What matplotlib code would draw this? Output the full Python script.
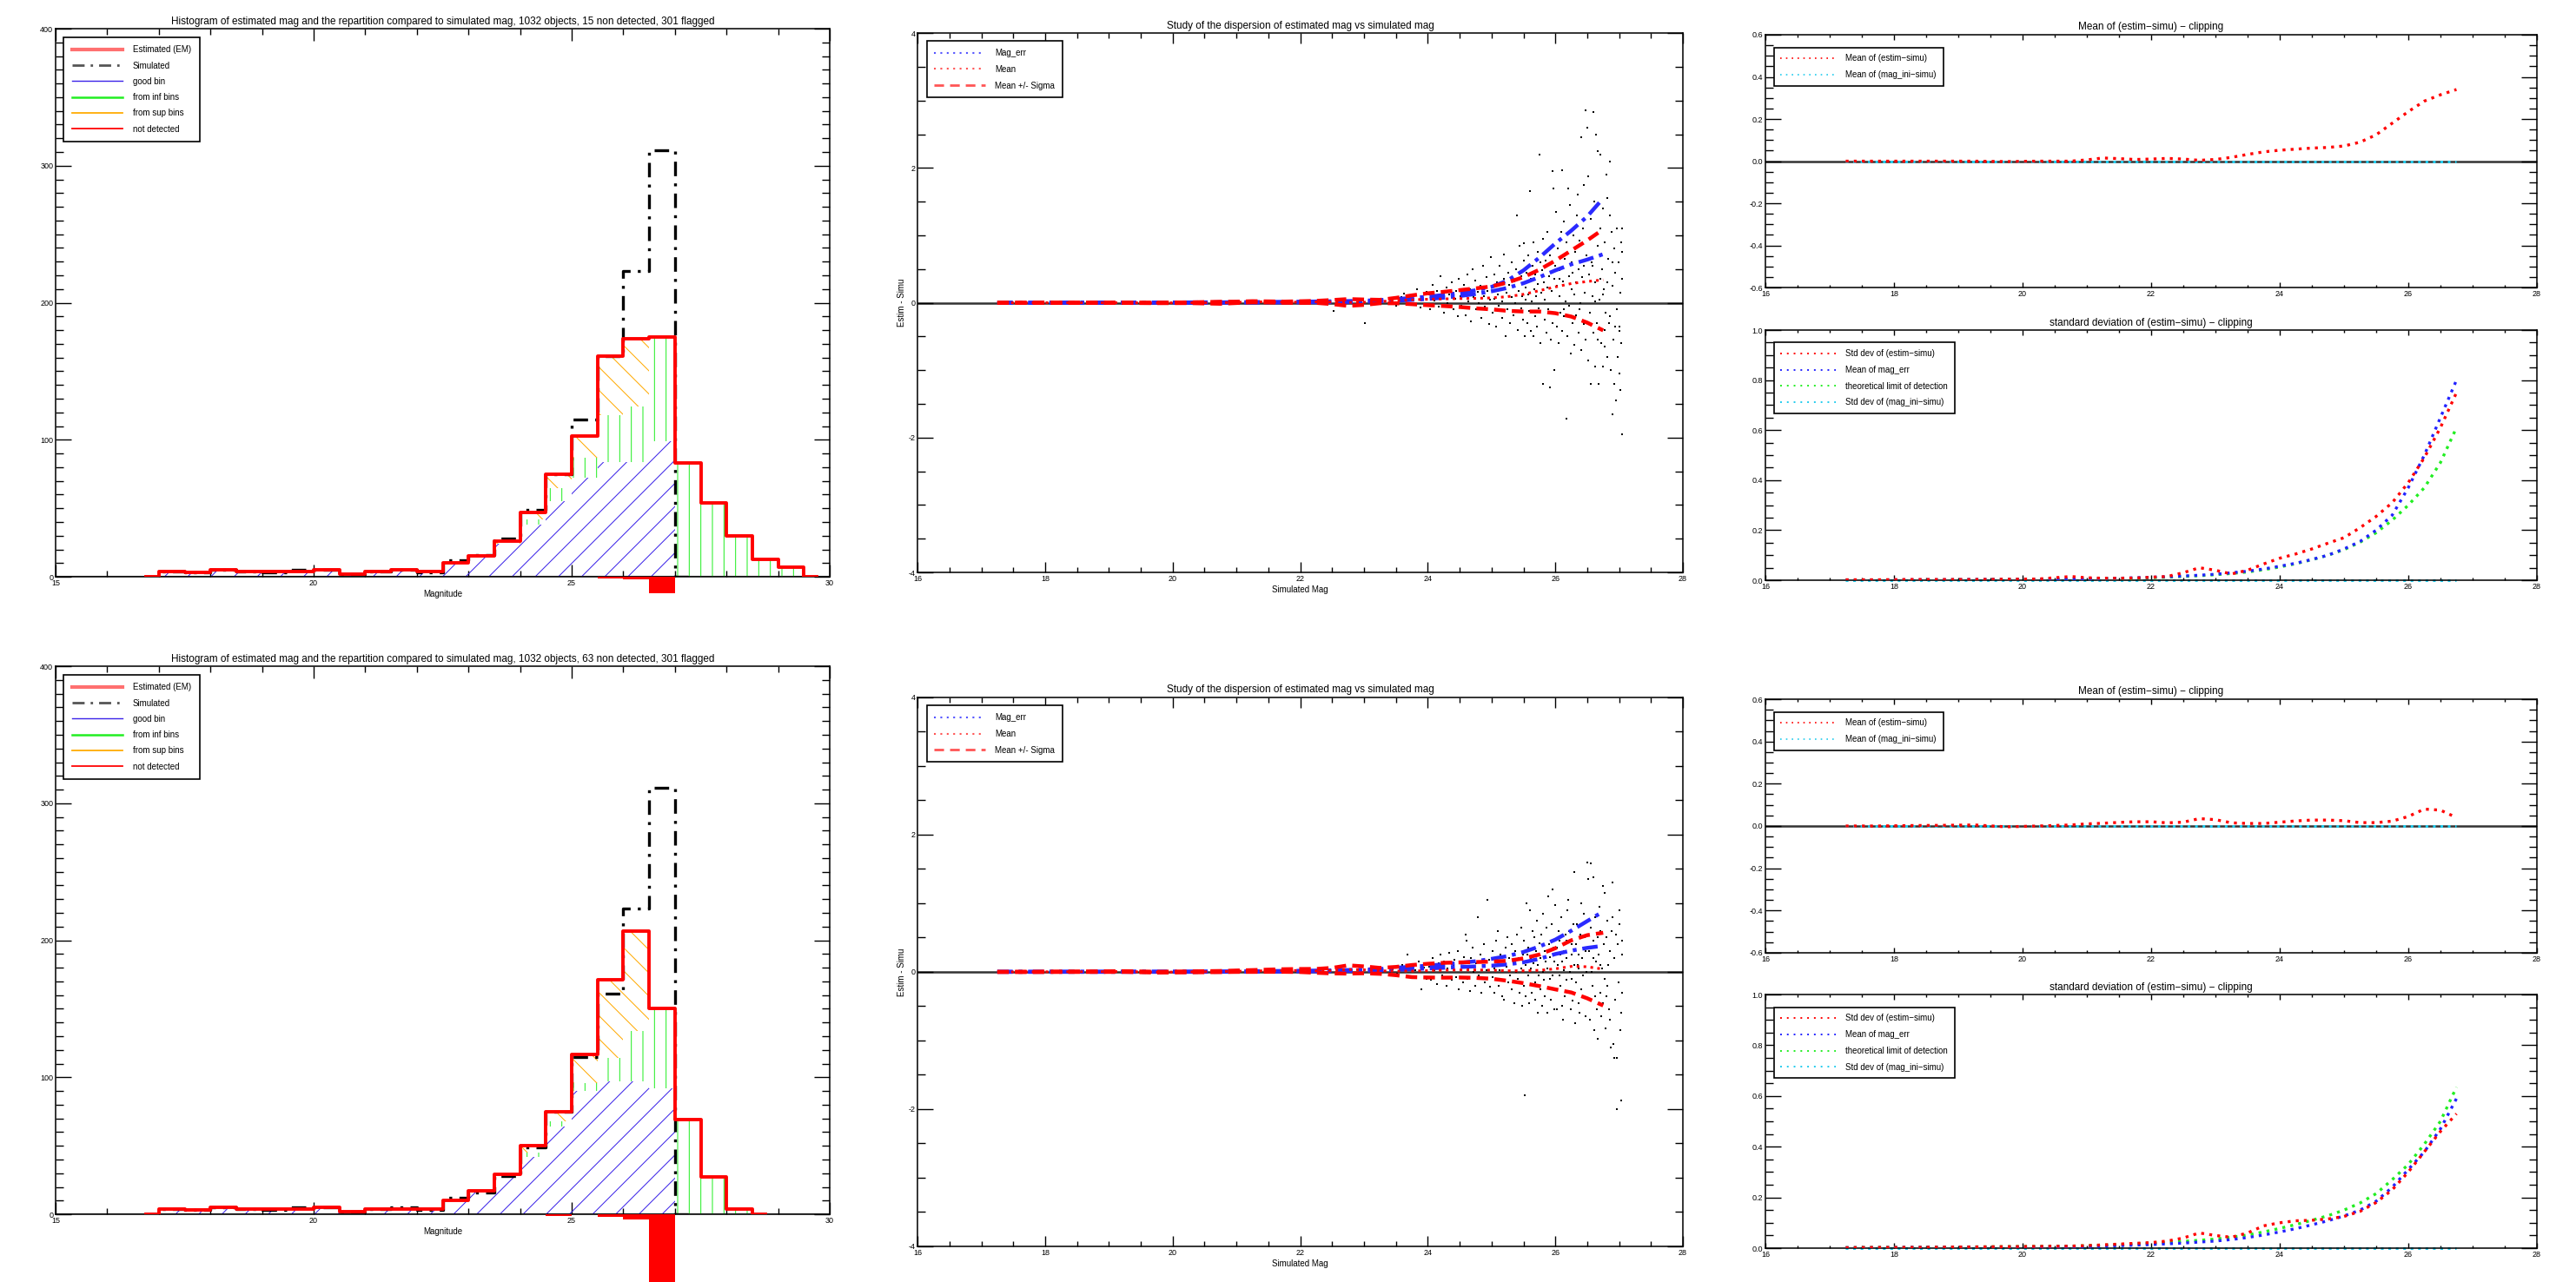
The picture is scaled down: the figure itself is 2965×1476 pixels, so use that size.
import numpy as np
import matplotlib
matplotlib.use("Agg")
import matplotlib.pyplot as plt
from matplotlib.lines import Line2D
from matplotlib.ticker import MultipleLocator, FormatStrFormatter

plt.rcParams['font.family'] = ['Liberation Sans Narrow', 'Liberation Sans', 'DejaVu Sans']
plt.rcParams['hatch.linewidth'] = 0.9
plt.rcParams['axes.linewidth'] = 1.4

# ---------------- histogram data (0.5 mag bins, centres) ----------------
centers1 = np.arange(16.75, 29.8, 0.5)
centers2 = np.arange(16.75, 28.8, 0.5)
sim_centers = np.arange(16.75, 27.3, 0.5)

simulated = [0, 4, 3, 5, 4, 3, 5, 5, 2, 4, 5, 3, 12, 16, 28, 49, 75, 115, 161, 223, 311, 0]

estim1 = [0, 4, 3, 5, 4, 4, 4, 5, 2, 4, 5, 4, 10, 15, 26, 47, 75, 103, 161, 174, 175, 83, 54, 30, 13, 7, 0]
good1 = [0, 4, 3, 5, 4, 4, 4, 5, 2, 4, 5, 4, 10, 15, 24, 38, 55, 72, 84, 84, 99, 0, 0, 0, 0, 0, 0]
inf1 = [0, 0, 0, 0, 0, 0, 0, 0, 0, 0, 0, 0, 0, 0, 0, 4, 10, 15, 34, 40, 76, 83, 54, 30, 13, 7, 0]
sup1 = [0, 0, 0, 0, 0, 0, 0, 0, 0, 0, 0, 0, 0, 0, 2, 5, 10, 16, 43, 50, 0, 0, 0, 0, 0, 0, 0]
notdet1 = [0, 0, 0, 0, 0, 0, 0, 0, 0, 0, 0, 0, 0, 0, 0, 0, 0, 0, -1, -2, -12, 0, 0, 0, 0, 0, 0]

estim2 = [0, 4, 3, 5, 4, 4, 4, 5, 2, 4, 4, 4, 10, 17, 29, 50, 75, 117, 171, 207, 150, 69, 27, 4, 0]
good2 = [0, 4, 3, 5, 4, 4, 4, 5, 2, 4, 4, 4, 10, 17, 27, 42, 64, 90, 97, 97, 92, 0, 0, 0, 0]
inf2 = [0, 0, 0, 0, 0, 0, 0, 0, 0, 0, 0, 0, 0, 0, 0, 3, 4, 6, 17, 37, 58, 69, 27, 4, 0]
sup2 = [0, 0, 0, 0, 0, 0, 0, 0, 0, 0, 0, 0, 0, 0, 2, 5, 7, 21, 57, 73, 0, 0, 0, 0, 0]
notdet2 = [0, 0, 0, 0, 0, 0, 0, 0, 0, 0, 0, 0, 0, 0, 0, 0, -1, 0, -2, -4, -56, 0, 0, 0, 0]

hist_titles = [
    "Histogram of estimated mag and the repartition compared to simulated mag, 1032 objects, 15 non detected, 301 flagged",
    "Histogram of estimated mag and the repartition compared to simulated mag, 1032 objects, 63 non detected, 301 flagged",
]

# ---------------- binned statistics vs simulated mag ----------------
mag_grid = [17.25, 17.75, 18.25, 18.75, 19.25, 19.75, 20.25, 20.75, 21.0, 21.25, 21.5, 21.75,
            22.0, 22.25, 22.5, 22.75, 23.0, 23.25, 23.5, 23.75, 24.0, 24.25, 24.5, 24.75,
            25.0, 25.25, 25.5, 25.75, 26.0, 26.25, 26.5, 26.75]

mean1 = [0.0, 0.0, 0.0, 0.0, 0.0, -0.002, 0.0, 0.0, 0.006, 0.015, 0.012, 0.008,
         0.01, 0.013, 0.01, 0.004, 0.008, 0.018, 0.032, 0.044, 0.052, 0.057, 0.062, 0.065,
         0.072, 0.09, 0.125, 0.18, 0.235, 0.285, 0.315, 0.34]
std1 = [0.002, 0.002, 0.003, 0.003, 0.003, 0.004, 0.005, 0.015, 0.01, 0.008, 0.008, 0.009,
        0.012, 0.015, 0.03, 0.05, 0.04, 0.025, 0.04, 0.065, 0.088, 0.105, 0.125, 0.148,
        0.17, 0.21, 0.255, 0.31, 0.39, 0.49, 0.61, 0.75]
magerr1 = [0.001, 0.001, 0.002, 0.002, 0.003, 0.003, 0.004, 0.005, 0.006, 0.007, 0.008, 0.01,
           0.012, 0.014, 0.017, 0.02, 0.024, 0.03, 0.036, 0.045, 0.056, 0.068, 0.083, 0.1,
           0.125, 0.155, 0.2, 0.26, 0.37, 0.5, 0.65, 0.8]
theo1 = [0.0005, 0.001, 0.001, 0.0015, 0.002, 0.0025, 0.003, 0.004, 0.005, 0.006, 0.007, 0.008,
         0.01, 0.012, 0.015, 0.018, 0.022, 0.027, 0.033, 0.042, 0.053, 0.066, 0.082, 0.1,
         0.122, 0.152, 0.19, 0.24, 0.3, 0.37, 0.47, 0.61]
blue_up1 = [0.002, 0.002, 0.003, 0.003, 0.004, 0.004, 0.005, 0.006, 0.008, 0.01, 0.012, 0.014,
            0.016, 0.018, 0.021, 0.025, 0.03, 0.04, 0.055, 0.07, 0.09, 0.115, 0.145, 0.185,
            0.235, 0.33, 0.48, 0.67, 0.88, 1.07, 1.28, 1.55]
blue_lo1 = [0.0, 0.0, 0.0, 0.0, 0.0, 0.0, 0.0, 0.001, 0.002, 0.003, 0.004, 0.005,
            0.006, 0.008, 0.01, 0.012, 0.016, 0.022, 0.03, 0.042, 0.056, 0.075, 0.1, 0.13,
            0.17, 0.22, 0.29, 0.38, 0.48, 0.57, 0.64, 0.72]

mean2 = [0.0, 0.0, 0.002, 0.003, 0.005, -0.004, 0.0, 0.005, 0.01, 0.013, 0.017, 0.02,
         0.02, 0.015, 0.018, 0.035, 0.03, 0.015, 0.012, 0.012, 0.018, 0.024, 0.028, 0.028,
         0.025, 0.016, 0.016, 0.023, 0.045, 0.08, 0.075, 0.04]
std2 = [0.002, 0.003, 0.003, 0.004, 0.005, 0.006, 0.007, 0.008, 0.01, 0.013, 0.016, 0.019,
        0.022, 0.028, 0.04, 0.06, 0.05, 0.043, 0.06, 0.088, 0.1, 0.108, 0.11, 0.115,
        0.125, 0.145, 0.18, 0.23, 0.3, 0.38, 0.46, 0.53]
magerr2 = [0.002, 0.002, 0.003, 0.003, 0.004, 0.004, 0.005, 0.006, 0.007, 0.008, 0.01, 0.012,
           0.014, 0.017, 0.02, 0.024, 0.028, 0.034, 0.042, 0.052, 0.064, 0.077, 0.092, 0.108,
           0.127, 0.15, 0.185, 0.24, 0.31, 0.38, 0.47, 0.59]
theo2 = [0.002, 0.003, 0.003, 0.004, 0.005, 0.006, 0.007, 0.008, 0.01, 0.012, 0.014, 0.017,
         0.02, 0.023, 0.027, 0.031, 0.036, 0.043, 0.052, 0.064, 0.078, 0.093, 0.11, 0.128,
         0.15, 0.178, 0.215, 0.27, 0.33, 0.41, 0.5, 0.635]
blue_up2 = [0.002, 0.002, 0.003, 0.003, 0.004, 0.004, 0.005, 0.006, 0.008, 0.01, 0.012, 0.014,
            0.016, 0.019, 0.022, 0.027, 0.033, 0.042, 0.06, 0.075, 0.09, 0.11, 0.13, 0.155,
            0.19, 0.23, 0.29, 0.37, 0.47, 0.6, 0.74, 0.88]
blue_lo2 = [0.0, 0.0, 0.0, 0.0, 0.0, 0.0, 0.0, 0.001, 0.002, 0.003, 0.004, 0.005,
            0.006, 0.008, 0.01, 0.013, 0.017, 0.023, 0.03, 0.04, 0.05, 0.06, 0.07, 0.08,
            0.09, 0.11, 0.14, 0.19, 0.26, 0.31, 0.35, 0.38]
ini_simu = [0.0] * len(mag_grid)

# ---------------- scatter of estim - simu ----------------
scatter1 = [
    (22.52, -0.12), (23.02, -0.30), (23.42, 0.03), (23.5, -0.05), (23.58, 0.08), (23.63, 0.14), (23.7, -0.02),
    (23.76, 0.1), (23.83, 0.2), (23.88, -0.07), (23.93, 0.05), (23.98, 0.16),
    (24.02, 0.12), (24.04, -0.1), (24.08, 0.26), (24.1, 0.03), (24.14, 0.18), (24.17, -0.06), (24.2, 0.4),
    (24.23, 0.08), (24.26, -0.15), (24.29, 0.22), (24.31, 0.0), (24.34, 0.12), (24.37, 0.3), (24.4, -0.1),
    (24.43, 0.06), (24.45, 0.18), (24.47, -0.2), (24.49, 0.35),
    (24.51, 0.1), (24.53, -0.05), (24.56, 0.27), (24.58, 0.14), (24.6, -0.18), (24.62, 0.42), (24.64, 0.02),
    (24.66, 0.2), (24.68, -0.28), (24.7, 0.5), (24.72, 0.08), (24.74, 0.33), (24.76, -0.1), (24.78, 0.16),
    (24.8, 0.0), (24.82, 0.25), (24.84, -0.22), (24.86, 0.55), (24.88, 0.1), (24.9, -0.06), (24.92, 0.38),
    (24.94, 0.18), (24.96, -0.32), (24.97, 0.04), (24.99, 0.68),
    (25.01, 0.22), (25.02, -0.15), (25.04, 0.42), (25.05, 0.06), (25.07, -0.35), (25.08, 0.3), (25.1, 0.12),
    (25.11, -0.05), (25.13, 0.55), (25.14, 0.2), (25.16, -0.22), (25.17, 0.02), (25.19, 0.36), (25.2, 0.72),
    (25.22, -0.5), (25.23, 0.15), (25.25, -0.1), (25.26, 0.45), (25.28, 0.26), (25.29, -0.3), (25.31, 0.08),
    (25.32, 0.6), (25.34, -0.18), (25.35, 0.32), (25.37, 0.0), (25.38, 0.5), (25.4, 1.3), (25.41, -0.4),
    (25.43, 0.18), (25.44, 0.85), (25.46, -0.08), (25.47, 0.4), (25.48, 0.1), (25.49, -0.25), (25.5, 0.62),
    (25.51, 0.88), (25.52, -0.5), (25.53, 0.22), (25.54, 0.05), (25.55, 0.45), (25.56, -0.3), (25.57, 0.12),
    (25.58, 0.7), (25.59, -0.12), (25.6, 1.65), (25.61, 0.35), (25.62, -0.42), (25.63, 0.02), (25.64, 0.55),
    (25.65, 0.9), (25.66, -0.5), (25.67, 0.2), (25.68, -0.2), (25.69, 0.42), (25.7, 0.1), (25.71, -0.35),
    (25.72, 0.75), (25.73, 0.28), (25.74, -0.08), (25.75, 2.2), (25.76, 0.6), (25.77, -0.6), (25.78, 0.15),
    (25.79, 0.48), (25.8, -1.2), (25.81, 0.95), (25.82, 0.3), (25.83, -0.25), (25.84, 0.05), (25.85, 0.62),
    (25.86, -0.45), (25.87, 0.22), (25.88, 1.05), (25.89, -0.1), (25.9, 0.4), (25.91, -1.25), (25.92, 0.7),
    (25.93, -0.55), (25.94, 0.18), (25.95, 1.95), (25.96, -0.3), (25.97, 1.7), (25.98, 0.35), (25.99, -1.0),
    (26.0, 0.55), (26.01, 1.35), (26.02, -0.35), (26.03, 0.25), (26.04, 0.8), (26.05, -0.6), (26.06, 0.1),
    (26.07, 0.48), (26.08, -0.15), (26.09, 1.05), (26.1, 1.97), (26.11, -0.42), (26.12, 0.32), (26.13, 1.2),
    (26.14, -0.2), (26.15, 0.65), (26.16, 0.02), (26.17, -1.72), (26.18, 0.9), (26.19, -0.5), (26.2, 1.7),
    (26.21, 0.4), (26.22, -0.05), (26.23, 1.45), (26.24, -0.75), (26.25, 0.2), (26.26, 0.6), (26.27, -0.3),
    (26.28, 1.0), (26.29, 0.12), (26.3, -0.62), (26.31, 0.75), (26.32, 0.3), (26.33, -0.18), (26.34, 1.3),
    (26.35, 1.6), (26.36, 0.5), (26.37, -0.45), (26.38, 0.92), (26.39, 0.0), (26.4, 2.45), (26.41, -0.7),
    (26.42, 0.38), (26.43, 1.1), (26.44, -0.32), (26.45, 1.75), (26.46, 0.15), (26.47, 2.85), (26.48, -0.55),
    (26.49, 0.7), (26.5, 2.6), (26.27, 0.45), (26.13, -0.1), (26.06, 0.35), (26.38, -0.1), (26.44, 0.55),
    (26.51, 1.88), (26.52, -0.85), (26.53, 0.42), (26.54, -0.15), (26.55, 1.25), (26.56, -1.2), (26.57, 0.6),
    (26.58, 0.1), (26.59, -0.45), (26.6, 2.83), (26.61, 1.5), (26.62, -0.95), (26.63, 0.3), (26.64, 2.5),
    (26.65, -0.3), (26.66, 0.85), (26.67, 2.25), (26.68, -1.2), (26.69, 0.05), (26.7, 2.2), (26.71, 1.1),
    (26.72, -0.6), (26.73, 0.5), (26.74, -0.95), (26.75, 1.4), (26.76, 0.2), (26.77, -0.4), (26.78, 0.9),
    (26.79, -0.15), (26.8, 1.9), (26.81, 1.55), (26.82, -0.8), (26.83, 0.65), (26.84, -0.3), (26.85, 2.1),
    (26.86, 1.3), (26.87, -1.0), (26.88, 1.05), (26.89, -1.65), (26.9, 0.25), (26.91, -0.55), (26.92, 0.8),
    (26.93, -1.2), (26.94, 0.45), (26.95, -1.45), (26.96, 1.1), (26.97, -0.1), (26.98, -0.8), (26.99, 0.6),
    (27.0, -1.05), (27.01, -0.35), (27.02, 0.15), (27.02, -1.3), (27.03, 0.9), (27.03, -0.6), (27.04, -1.95),
    (27.04, 0.35), (27.05, 1.1), (27.05, 0.75), (27.01, -0.42), (26.58, 0.55), (26.62, 0.02), (26.66, -0.55),
    (26.7, 0.35), (26.74, 0.12), (26.78, -0.65), (26.82, 0.3), (26.86, -0.2), (26.9, 0.6), (26.94, -0.35),
]

scatter2 = [
    (23.45, 0.04), (23.52, -0.03), (23.6, 0.1), (23.68, 0.25), (23.73, -0.08), (23.8, 0.02), (23.86, 0.15),
    (23.9, -0.25), (23.94, 0.06), (23.98, -0.1),
    (24.02, 0.08), (24.05, -0.12), (24.08, 0.2), (24.11, 0.02), (24.14, -0.18), (24.17, 0.12), (24.2, 0.25),
    (24.23, -0.05), (24.26, 0.15), (24.29, -0.2), (24.31, 0.05), (24.34, 0.28), (24.37, -0.12), (24.4, 0.1),
    (24.42, 0.18), (24.45, -0.08), (24.47, 0.3), (24.49, -0.25),
    (24.51, 0.02), (24.53, 0.12), (24.55, -0.15), (24.57, 0.22), (24.59, 0.55), (24.61, 0.45), (24.62, -0.1),
    (24.64, 0.05), (24.66, -0.28), (24.68, 0.2), (24.7, 0.35), (24.72, 0.0), (24.74, -0.2), (24.76, 0.12),
    (24.78, 0.8), (24.8, -0.05), (24.82, 0.25), (24.84, -0.3), (24.86, 0.1), (24.88, 0.4), (24.9, -0.15),
    (24.92, 0.02), (24.94, 1.05), (24.96, 0.18), (24.98, -0.22),
    (25.01, 0.3), (25.02, -0.08), (25.04, 0.05), (25.05, -0.3), (25.07, 0.45), (25.08, 0.15), (25.1, 0.6),
    (25.11, -0.2), (25.13, 0.02), (25.14, 0.25), (25.16, -0.35), (25.17, 0.1), (25.19, -0.12), (25.2, -0.4),
    (25.22, 0.35), (25.23, 0.08), (25.25, 0.5), (25.26, -0.15), (25.28, 0.2), (25.29, -0.05), (25.31, 0.4),
    (25.32, -0.25), (25.34, 0.15), (25.35, -0.45), (25.37, 0.3), (25.38, 0.0), (25.4, 0.55), (25.41, -0.1),
    (25.43, 0.2), (25.44, -0.3), (25.46, 0.05), (25.47, 0.65), (25.48, -0.5), (25.49, 0.25), (25.5, -0.2),
    (25.51, 0.45), (25.52, -1.8), (25.53, 0.1), (25.54, -0.35), (25.55, 1.0), (25.56, 0.25), (25.57, -0.05),
    (25.58, 0.35), (25.59, -0.45), (25.6, 0.9), (25.61, 0.2), (25.62, 0.05), (25.63, -0.3), (25.64, 0.6),
    (25.65, -0.2), (25.66, 0.12), (25.67, 0.5), (25.68, -0.15), (25.69, -0.4), (25.7, 0.3), (25.71, 0.75),
    (25.72, -0.6), (25.73, 0.1), (25.74, -0.05), (25.75, 0.42), (25.76, -0.25), (25.77, 0.2), (25.78, 0.55),
    (25.79, -0.5), (25.8, 0.0), (25.81, 0.85), (25.82, -0.12), (25.83, 0.3), (25.84, -0.35), (25.85, 0.15),
    (25.86, 0.65), (25.87, -0.6), (25.88, 0.05), (25.89, 1.1), (25.9, 0.4), (25.91, -0.1), (25.92, 0.22),
    (25.93, -0.4), (25.94, 0.7), (25.95, 1.2), (25.96, -0.05), (25.97, 0.35), (25.98, -0.55), (25.99, 0.15),
    (26.0, 0.97), (26.01, -0.25), (26.02, 0.35), (26.03, -0.55), (26.04, 0.1), (26.05, 0.6), (26.06, -0.05),
    (26.07, 0.45), (26.08, -0.2), (26.09, 0.8), (26.1, -0.5), (26.11, 0.15), (26.12, -0.7), (26.13, 0.3),
    (26.14, 0.02), (26.15, -0.35), (26.16, 0.55), (26.17, 0.2), (26.18, -0.12), (26.19, 0.9), (26.2, 1.05),
    (26.21, -0.3), (26.22, 0.6), (26.23, 0.0), (26.24, -0.55), (26.25, 0.25), (26.26, 0.4), (26.27, -0.42),
    (26.28, 0.7), (26.29, 0.1), (26.3, 1.45), (26.31, -0.75), (26.32, 0.4), (26.33, -0.15), (26.34, 0.7),
    (26.35, 0.1), (26.36, -0.45), (26.37, 0.25), (26.38, -0.6), (26.39, 0.55), (26.4, -0.25), (26.41, 1.0),
    (26.42, 0.2), (26.43, -0.05), (26.44, 0.85), (26.45, -0.35), (26.46, 0.5), (26.47, -0.65), (26.48, 0.3),
    (26.49, 0.0), (26.5, 1.6), (26.08, 0.25), (26.18, 0.45), (26.26, -0.1), (26.36, 0.05), (26.44, 0.35),
    (26.51, 1.35), (26.52, -0.4), (26.53, 0.3), (26.54, -0.7), (26.55, 1.58), (26.56, 0.65), (26.57, 0.0),
    (26.58, -0.2), (26.59, 0.45), (26.6, 1.38), (26.61, -0.85), (26.62, 0.8), (26.63, -0.35), (26.64, 0.15),
    (26.65, -0.55), (26.66, 0.5), (26.67, -0.98), (26.68, 0.25), (26.69, 0.95), (26.7, -0.3), (26.71, 0.6),
    (26.72, -0.65), (26.73, 0.05), (26.74, 1.25), (26.75, -0.45), (26.76, 0.4), (26.77, -0.1), (26.78, 1.15),
    (26.79, -0.82), (26.8, 0.5), (26.81, -0.2), (26.82, 0.75), (26.83, 0.1), (26.84, -0.55), (26.85, -0.7),
    (26.86, 0.3), (26.87, -1.1), (26.88, 0.6), (26.89, 1.3), (26.9, 0.8), (26.91, -1.05), (26.92, -1.25),
    (26.93, 0.2), (26.94, -0.4), (26.95, 0.55), (26.96, -1.25), (26.97, -2.0), (26.98, 0.4), (26.99, -0.15),
    (27.0, 0.7), (27.01, 0.9), (27.02, -0.85), (27.03, -1.88), (27.03, -0.6), (27.04, 0.25), (27.04, 0.45),
    (27.05, -0.3), (26.6, 0.2), (26.7, 0.1), (26.8, -0.35),
]

BLUE = '#3a22e8'
GREEN = '#22ee22'
ORANGE = '#ffaa00'
RED = '#ff0000'
CYAN = '#22ccee'


def idl_ticks(ax, xmaj, xmin, ymaj, ymin, xlen, ylen, fmt_x='%d', fmt_y='%d'):
    ax.xaxis.set_major_locator(MultipleLocator(xmaj))
    ax.xaxis.set_minor_locator(MultipleLocator(xmin))
    ax.yaxis.set_major_locator(MultipleLocator(ymaj))
    ax.yaxis.set_minor_locator(MultipleLocator(ymin))
    ax.xaxis.set_major_formatter(FormatStrFormatter(fmt_x))
    ax.yaxis.set_major_formatter(FormatStrFormatter(fmt_y))
    ax.tick_params(which='both', direction='in', top=True, right=True, labelsize=8.1, width=1.25, pad=2.5)
    ax.tick_params(axis='x', which='major', length=xlen)
    ax.tick_params(axis='x', which='minor', length=xlen / 2)
    ax.tick_params(axis='y', which='major', length=ylen)
    ax.tick_params(axis='y', which='minor', length=ylen / 2)


def box_legend(ax, handles, labels, **kw):
    leg = ax.legend(handles, labels, loc='upper left', fontsize=8.75, frameon=True, fancybox=False,
                    edgecolor='black', framealpha=1, borderaxespad=0, handletextpad=1.2, **kw)
    leg.get_frame().set_linewidth(1.5)
    return leg


def draw_hist(ax, centers, estim, good, inf, sup, notdet, title):
    good = np.array(good)
    inf = np.array(inf)
    sup = np.array(sup)
    ax.bar(centers, good, width=0.5, color='none', edgecolor=BLUE, hatch='/', linewidth=0, zorder=2)
    ax.bar(centers, inf, bottom=good, width=0.5, color='none', edgecolor=GREEN, hatch='|', linewidth=0, zorder=2)
    ax.bar(centers, sup, bottom=good + inf, width=0.5, color='none', edgecolor=ORANGE, hatch='\\',
           linewidth=0, zorder=2)
    ax.bar(centers, notdet, width=0.5, color=RED, linewidth=0, clip_on=False, zorder=3)
    ax.step(sim_centers, simulated, where='mid', color='black', lw=3.0, dashes=(5, 2.5, 1, 2.5), zorder=4)
    ax.step(centers, estim, where='mid', color=RED, lw=3.5, zorder=5)
    ax.axhline(0, color='#555555', lw=1.9, zorder=1)
    ax.set_xlim(15, 30)
    ax.set_ylim(0, 400)
    idl_ticks(ax, 5, 1, 100, 10, 12.5, 16.25)
    ax.set_title(title, fontsize=10.6, pad=5)
    ax.set_xlabel('Magnitude', fontsize=8.75, labelpad=2.5)
    handles = [Line2D([], [], color='#ff7070', lw=3.75),
               Line2D([], [], color='#555555', lw=2.5, dashes=(5, 2.5, 1, 2.5)),
               Line2D([], [], color=BLUE, lw=1.25),
               Line2D([], [], color=GREEN, lw=2.25),
               Line2D([], [], color=ORANGE, lw=1.6),
               Line2D([], [], color=RED, lw=1.6)]
    labels = ['Estimated (EM)', 'Simulated', 'good bin', 'from inf bins', 'from sup bins', 'not detected']
    box_legend(ax, handles, labels, bbox_to_anchor=(0.01, 0.985), handlelength=6.0,
               borderpad=1.0, labelspacing=0.85)


def draw_disp(ax, scatter, mean, std, blue_up, blue_lo):
    sx = [p[0] for p in scatter]
    sy = [p[1] for p in scatter]
    mean = np.array(mean)
    std = np.array(std)
    ax.scatter(sx, sy, s=3.4, c='black', marker='s', linewidths=0, zorder=2)
    ax.axhline(0, color='#333333', lw=2.25, zorder=1)
    ax.plot(mag_grid, blue_up, color='#2a2aff', lw=4, dashes=(4, 1.5, 1, 1.5), zorder=3)
    ax.plot(mag_grid, blue_lo, color='#2a2aff', lw=4, dashes=(4, 1.5, 1, 1.5), zorder=3)
    ax.plot(mag_grid, mean + std, color=RED, lw=4, dashes=(3, 1.6), zorder=4)
    ax.plot(mag_grid, mean - std, color=RED, lw=4, dashes=(3, 1.6), zorder=4)
    ax.plot(mag_grid, mean, color=RED, lw=2.75, dashes=(1, 1.6), zorder=4)
    ax.set_xlim(16, 28)
    ax.set_ylim(-4, 4)
    idl_ticks(ax, 2, 0.5, 2, 0.5, 10.6, 16.25)
    ax.set_title('Study of the dispersion of estimated mag vs simulated mag', fontsize=10.6, pad=5)
    ax.set_xlabel('Simulated Mag', fontsize=8.75, labelpad=2.5)
    ax.set_ylabel('Estim - Simu', fontsize=8.75, labelpad=2.5)
    handles = [Line2D([], [], color='#5555ff', lw=1.9, dashes=(1, 2.5)),
               Line2D([], [], color='#ff5555', lw=1.9, dashes=(1, 2.5)),
               Line2D([], [], color='#ff5555', lw=2.5, dashes=(4, 2.5))]
    box_legend(ax, handles, ['Mag_err', 'Mean', 'Mean +/- Sigma'], bbox_to_anchor=(0.012, 0.985),
               handlelength=6.0, borderpad=0.9, labelspacing=0.9)


def draw_mean(ax, mean):
    ax.axhline(0, color='#333333', lw=2.25, zorder=1)
    ax.plot(mag_grid, ini_simu, color=CYAN, lw=2.75, dashes=(1, 1.8), zorder=2)
    ax.plot(mag_grid, mean, color=RED, lw=3.0, dashes=(1, 1.8), zorder=3)
    ax.set_xlim(16, 28)
    ax.set_ylim(-0.6, 0.6)
    idl_ticks(ax, 2, 0.5, 0.2, 0.05, 5.6, 16.25, fmt_y='%.1f')
    ax.set_title('Mean of (estim\u2212simu) \u2212 clipping', fontsize=10.6, pad=5)
    handles = [Line2D([], [], color=RED, lw=1.5, dashes=(1, 3)),
               Line2D([], [], color=CYAN, lw=1.5, dashes=(1, 3))]
    box_legend(ax, handles, ['Mean of (estim\u2212simu)', 'Mean of (mag_ini\u2212simu)'],
               bbox_to_anchor=(0.011, 0.95), handlelength=6.5, borderpad=0.8, labelspacing=0.9)


def draw_std(ax, std, magerr, theo):
    ax.plot(mag_grid, ini_simu, color=CYAN, lw=2.75, dashes=(1, 1.8), zorder=2, clip_on=False)
    ax.plot(mag_grid, theo, color=GREEN, lw=3.0, dashes=(1, 1.8), zorder=3)
    ax.plot(mag_grid, magerr, color='#2222ff', lw=3.0, dashes=(1, 1.8), zorder=3)
    ax.plot(mag_grid, std, color=RED, lw=3.0, dashes=(1, 1.8), zorder=4)
    ax.set_xlim(16, 28)
    ax.set_ylim(0, 1)
    idl_ticks(ax, 2, 0.5, 0.2, 0.05, 5.6, 16.25, fmt_y='%.1f')
    ax.set_title('standard deviation of (estim\u2212simu) \u2212 clipping', fontsize=10.6, pad=5)
    handles = [Line2D([], [], color=RED, lw=1.75, dashes=(1, 3)),
               Line2D([], [], color='#2222ff', lw=1.75, dashes=(1, 3)),
               Line2D([], [], color=GREEN, lw=1.75, dashes=(1, 3)),
               Line2D([], [], color=CYAN, lw=1.75, dashes=(1, 3))]
    box_legend(ax, handles, ['Std dev of (estim\u2212simu)', 'Mean of mag_err',
                             'theoretical limit of detection', 'Std dev of (mag_ini\u2212simu)'],
               bbox_to_anchor=(0.011, 0.95), handlelength=6.5, borderpad=0.8, labelspacing=0.9)


# 80 dpi so that the hatch cell (one inch) gives the denser IDL-like hatching
fig = plt.figure(figsize=(2965 / 80, 1476 / 80), dpi=80)

# row 1
ax = fig.add_axes([0.0216, 0.5501, 0.3005, 0.4275])
draw_hist(ax, centers1, estim1, good1, inf1, sup1, notdet1, hist_titles[0])
ax = fig.add_axes([0.3562, 0.5535, 0.2971, 0.4207])
draw_disp(ax, scatter1, mean1, std1, blue_up1, blue_lo1)
ax = fig.add_axes([0.6853, 0.7757, 0.2995, 0.1972])
draw_mean(ax, mean1)
ax = fig.add_axes([0.6853, 0.5474, 0.2995, 0.1951])
draw_std(ax, std1, magerr1, theo1)

# row 2
ax = fig.add_axes([0.0216, 0.0528, 0.3005, 0.4275])
draw_hist(ax, centers2, estim2, good2, inf2, sup2, notdet2, hist_titles[1])
ax = fig.add_axes([0.3562, 0.0278, 0.2971, 0.4282])
draw_disp(ax, scatter2, mean2, std2, blue_up2, blue_lo2)
ax = fig.add_axes([0.6853, 0.2568, 0.2995, 0.1978])
draw_mean(ax, mean2)
ax = fig.add_axes([0.6853, 0.0264, 0.2995, 0.1978])
draw_std(ax, std2, magerr2, theo2)

fig.savefig('out.png', dpi=80, facecolor='white')
